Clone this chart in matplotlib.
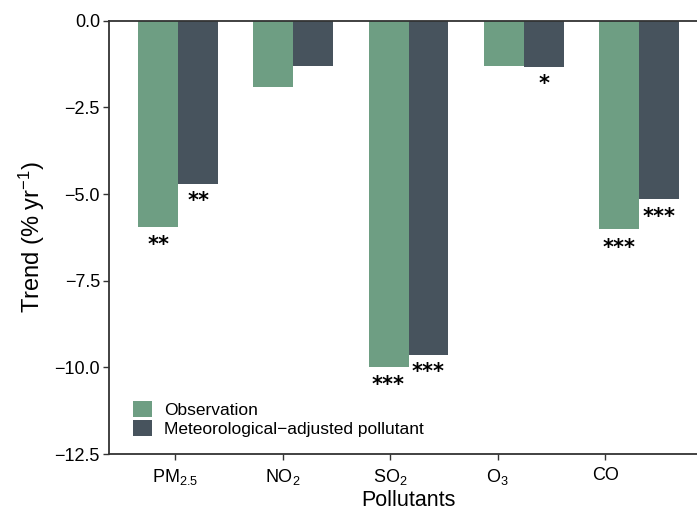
import numpy as np
import matplotlib
matplotlib.use("Agg")
import matplotlib.pyplot as plt
from matplotlib.patches import Patch

plt.rcParams["font.family"] = ["Liberation Sans", "DejaVu Sans"]
plt.rcParams["mathtext.fontset"] = "custom"
plt.rcParams["mathtext.rm"] = "Liberation Sans"
plt.rcParams["mathtext.it"] = "Liberation Sans:italic"
plt.rcParams["mathtext.bf"] = "Liberation Sans:bold"

# Pollutant trends (% per year)
pollutants = [r"PM$_{\mathregular{2.5}}$", r"NO$_{\mathregular{2}}$", r"SO$_{\mathregular{2}}$",
              r"O$_{\mathregular{3}}$", "CO"]
observation = [-5.94, -1.92, -9.98, -1.30, -6.02]
met_adjusted = [-4.71, -1.31, -9.64, -1.34, -5.15]
obs_signif = ["**", "", "***", "", "***"]
adj_signif = ["**", "", "***", "*", "***"]

series_names = ["Observation", "Meteorological\u2212adjusted pollutant"]
colors = ["#6E9E83", "#47535D"]
axis_color = "#333333"

fig = plt.figure(figsize=(6.97, 5.14), dpi=100)
ax = fig.add_axes([0.1564, 0.1167, 0.8594, 0.8431])

x = np.arange(len(pollutants))
w = 0.347
ax.bar(x - w / 2, observation, width=w, color=colors[0], linewidth=0)
ax.bar(x + w / 2, met_adjusted, width=w, color=colors[1], linewidth=0)

star_style = dict(textcoords="offset points", ha="center", va="center",
                  fontsize=15, fontweight="bold", color="black", family="DejaVu Sans")
for xi, v, s in zip(x - w / 2, observation, obs_signif):
    if s:
        ax.annotate(s, (xi, v), xytext=(0, -13.5), **star_style)
for xi, v, s in zip(x + w / 2, met_adjusted, adj_signif):
    if s:
        ax.annotate(s, (xi, v), xytext=(0, -12.5), **star_style)

ax.set_xlim(-0.6, 4.6)
ax.set_ylim(-12.5, 0)
ax.set_yticks([0, -2.5, -5.0, -7.5, -10.0, -12.5])

# category labels sit on their own scale along the bottom axis
def to_lab(v):
    return (3 + 115.2 * np.asarray(v)) / 107.5

def from_lab(u):
    return (107.5 * np.asarray(u) - 3) / 115.2

ax.set_xticks([])
sec = ax.secondary_xaxis("bottom", functions=(to_lab, from_lab))
sec.set_xticks(np.arange(len(pollutants)))
sec.set_xticklabels(pollutants)
sec.tick_params(axis="x", direction="out", length=4.5, width=1.0,
                color=axis_color, labelsize=13, pad=5)
sec.spines["bottom"].set_color(axis_color)
sec.spines["bottom"].set_linewidth(1.3)
sec.set_xlabel("Pollutants", fontsize=15.5, labelpad=2)

ax.tick_params(axis="y", direction="out", length=4.5, width=1.0,
               color=axis_color, labelsize=13, pad=2)
ax.tick_params(axis="x", length=0)
for side in ["left", "top", "bottom"]:
    ax.spines[side].set_color(axis_color)
    ax.spines[side].set_linewidth(1.3)
ax.spines["right"].set_visible(False)
ax.spines["bottom"].set_visible(False)

ax.set_ylabel(r"Trend (% yr$^{\mathregular{-1}}$)", fontsize=17, labelpad=5)

handles = [Patch(facecolor=c, edgecolor="none") for c in colors]
fig.legend(handles, series_names, loc="lower left",
           bbox_to_anchor=(133 / 697, (514 - 437) / 514), frameon=False,
           fontsize=12.5, handlelength=1.1, handleheight=1.1, labelspacing=0.1,
           handletextpad=0.7, borderpad=0, borderaxespad=0)

fig.savefig("out.png", dpi=100, facecolor="white")
